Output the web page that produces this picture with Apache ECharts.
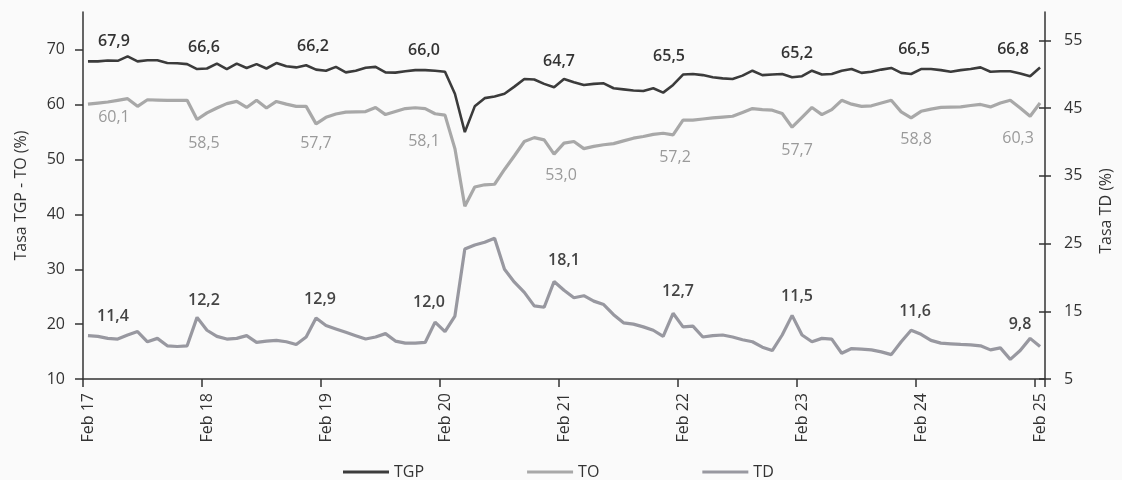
<!DOCTYPE html>
<html>
<head>
<meta charset="utf-8">
<script src="https://cdn.jsdelivr.net/npm/echarts@6/dist/echarts.min.js"></script>
<style>
html,body{margin:0;padding:0;background:#fafafa;}
#c{width:1122px;height:480px;}
</style>
</head>
<body>
<div id="c"></div>
<script>
// ---------- DATA ----------
const monthNames = ['Ene','Feb','Mar','Abr','May','Jun','Jul','Ago','Sep','Oct','Nov','Dic'];
const startYear = 17, startMonth = 1, monthCount = 97; // Feb 17 .. Feb 25
const categories = [];
for (let k = 0; k < monthCount; k++) {
  const m = (startMonth + k) % 12, y = startYear + Math.floor((startMonth + k) / 12);
  categories.push(monthNames[m] + ' ' + y);
}

const tgp = [
  67.9, 67.9, 68.05, 68.0, 68.8, 67.9, 68.1, 68.1, 67.6, 67.55, 67.4, 66.5,
  66.6, 67.5, 66.5, 67.5, 66.7, 67.4, 66.6, 67.6, 67.0, 66.8, 67.2, 66.4,
  66.2, 66.9, 65.9, 66.2, 66.75, 66.9, 65.9, 65.85, 66.1, 66.3, 66.3, 66.2,
  66.0, 62.0, 55.0, 59.7, 61.2, 61.5, 62.0, 63.3, 64.7, 64.6, 63.8, 63.2,
  64.7, 64.1, 63.6, 63.8, 63.9, 63.0, 62.8, 62.6, 62.5, 63.0, 62.2, 63.6,
  65.5, 65.6, 65.4, 65.0, 64.8, 64.7, 65.3, 66.2, 65.4, 65.5, 65.6, 65.0,
  65.2, 66.2, 65.5, 65.6, 66.2, 66.5, 65.8, 66.0, 66.4, 66.7, 65.8, 65.6,
  66.5, 66.5, 66.3, 66.0, 66.3, 66.5, 66.8, 66.0, 66.1, 66.1, 65.7, 65.2,
  66.8
];
const to = [
  60.1, 60.3, 60.5, 60.8, 61.1, 59.7, 60.9, 60.85, 60.8, 60.8, 60.8, 57.3,
  58.5, 59.4, 60.2, 60.6, 59.5, 60.8, 59.4, 60.6, 60.1, 59.7, 59.7, 56.5,
  57.7, 58.3, 58.65, 58.7, 58.75, 59.5, 58.2, 58.75, 59.3, 59.45, 59.3, 58.35,
  58.1, 52.0, 41.5, 45.0, 45.4, 45.5, 48.2, 50.7, 53.3, 54.0, 53.6, 51.0,
  53.0, 53.3, 52.0, 52.4, 52.7, 52.9, 53.4, 53.9, 54.2, 54.6, 54.8, 54.5,
  57.2, 57.2, 57.4, 57.6, 57.75, 57.9, 58.6, 59.3, 59.1, 59.0, 58.4, 55.9,
  57.7, 59.5, 58.2, 59.1, 60.8, 60.1, 59.7, 59.8, 60.3, 60.8, 58.7, 57.6,
  58.8, 59.2, 59.5, 59.55, 59.6, 59.85, 60.05, 59.6, 60.3, 60.8, 59.4, 57.9,
  60.3
];
const td = [
  11.4, 11.3, 11.0, 10.9, 11.5, 12.0, 10.5, 11.0, 9.9, 9.8, 9.9, 14.1,
  12.2, 11.3, 10.9, 11.0, 11.4, 10.4, 10.6, 10.7, 10.5, 10.1, 11.2, 14.0,
  12.9, 12.4, 11.9, 11.4, 10.9, 11.2, 11.7, 10.6, 10.3, 10.3, 10.4, 13.4,
  12.0, 14.3, 24.2, 24.8, 25.2, 25.8, 21.2, 19.3, 17.8, 15.8, 15.6, 19.4,
  18.1, 17.0, 17.3, 16.5, 16.0, 14.5, 13.3, 13.1, 12.7, 12.2, 11.3, 14.7,
  12.7, 12.8, 11.2, 11.4, 11.5, 11.2, 10.8, 10.5, 9.7, 9.2, 11.5, 14.4,
  11.5, 10.5, 11.0, 10.9, 8.8, 9.5, 9.4, 9.3, 9.0, 8.6, 10.5, 12.2,
  11.6, 10.7, 10.3, 10.2, 10.1, 10.05, 9.9, 9.3, 9.6, 7.9, 9.2, 11.0,
  9.8
];
const labelledMonths = [0, 12, 24, 36, 48, 60, 72, 84, 96]; // each February
const leftTicks = [10, 20, 30, 40, 50, 60, 70];
const rightTicks = [5, 15, 25, 35, 45, 55];

// ---------- STYLE / LAYOUT ----------
const FONT = '"Open Sans", "DejaVu Sans", sans-serif';
const colTGP = '#3b3b3b', colTO = '#a8a8a8', colTD = '#9898a0';
// label nudges (pixels from the labelled point), styling only
const nudgeTGP = [[26,-20],[-3,-21],[-13,-24],[-21,-21],[-5,-17],[-14,-18],[-5,-23],[-7,-20],[-27,-18]];
const nudgeTO  = [[26,13],[-3,30],[-10,26],[-21,26],[-3,32],[-8,37],[-5,33],[-5,28],[-22,35]];
const nudgeTD  = [[25,-19],[-3,-30],[-6,-26],[-16,-29],[0,-30],[-5,-35],[-5,-39],[-6,-23],[-20,-22]];

const fmt = v => v.toFixed(1).replace('.', ',');

function buildData(values, nudges, color, weight) {
  return values.map((v, k) => {
    const li = labelledMonths.indexOf(k);
    if (li < 0) return v;
    return {
      value: v,
      label: {
        show: true, position: 'inside', offset: nudges[li],
        formatter: p => fmt(p.value),
        color: color, fontSize: 16, fontWeight: weight, fontFamily: FONT
      }
    };
  });
}

const bandInterval = (idx) => idx % 12 === 0;

const chart = echarts.init(document.getElementById('c'), null, {renderer: 'canvas'});
chart.setOption({
  backgroundColor: '#fafafa',
  animation: false,
  textStyle: {fontFamily: FONT},
  grid: {left: 83, right: 70, top: 12, bottom: 101, containLabel: false},
  legend: {
    left: 343, top: 464, padding: 0,
    itemWidth: 46, itemHeight: 3, itemGap: 103,
    icon: 'rect',
    textStyle: {fontSize: 16, color: '#333', fontFamily: FONT},
    data: ['TGP', 'TO', 'TD']
  },
  xAxis: {
    type: 'category', data: categories, boundaryGap: true,
    axisLine: {lineStyle: {color: '#333', width: 1.5}},
    axisTick: {show: true, interval: bandInterval, length: 8, lineStyle: {color: '#333', width: 1.5}},
    axisLabel: {interval: bandInterval, rotate: 90, margin: 14, fontSize: 16, color: '#333', fontFamily: FONT},
    splitLine: {show: false}
  },
  yAxis: [
    {
      type: 'value', position: 'left', min: 10, max: 76.9,
      name: 'Tasa TGP - TO (%)', nameLocation: 'middle', nameGap: 54, nameRotate: 90,
      nameTextStyle: {fontSize: 16, color: '#333', fontFamily: FONT},
      axisLine: {show: true, lineStyle: {color: '#333', width: 1.5}},
      axisTick: {show: true, length: 8, customValues: leftTicks, lineStyle: {color: '#333', width: 1.5}},
      axisLabel: {customValues: leftTicks, margin: 18, fontSize: 16, color: '#333', fontFamily: FONT},
      splitLine: {show: false}
    },
    {
      type: 'value', position: 'right', min: 5, max: 59.2,
      name: 'Tasa TD (%)', nameLocation: 'middle', nameGap: 53, nameRotate: 90,
      nameTextStyle: {fontSize: 16, color: '#333', fontFamily: FONT, padding: [0, 31, 0, 0]},
      axisLine: {show: true, lineStyle: {color: '#333', width: 1.5}},
      axisTick: {show: true, length: 6, customValues: rightTicks, lineStyle: {color: '#333', width: 1.5}},
      axisLabel: {customValues: rightTicks, margin: 19, fontSize: 16, color: '#333', fontFamily: FONT},
      splitLine: {show: false}
    },
    {
      type: 'value', position: 'right', min: 5, max: 59.2,
      axisLine: {show: false},
      axisTick: {show: true, inside: true, length: 6, customValues: rightTicks, lineStyle: {color: '#333', width: 1.5}},
      axisLabel: {show: false},
      splitLine: {show: false}
    }
  ],
  series: [
    {
      name: 'TGP', type: 'line', yAxisIndex: 0, data: buildData(tgp, nudgeTGP, '#333', 600),
      symbol: 'circle', symbolSize: 0.01, showSymbol: true,
      color: colTGP, lineStyle: {color: colTGP, width: 2.6}, itemStyle: {color: colTGP},
      emphasis: {disabled: true}, z: 4
    },
    {
      name: 'TO', type: 'line', yAxisIndex: 0, data: buildData(to, nudgeTO, '#9a9a9a', 500),
      symbol: 'circle', symbolSize: 0.01, showSymbol: true,
      color: colTO, lineStyle: {color: colTO, width: 3.2}, itemStyle: {color: colTO},
      emphasis: {disabled: true}, z: 3
    },
    {
      name: 'TD', type: 'line', yAxisIndex: 1, data: buildData(td, nudgeTD, '#444', 600),
      symbol: 'circle', symbolSize: 0.01, showSymbol: true,
      color: colTD, lineStyle: {color: colTD, width: 3.2}, itemStyle: {color: colTD},
      emphasis: {disabled: true}, z: 3
    }
  ]
});
</script>
</body>
</html>
